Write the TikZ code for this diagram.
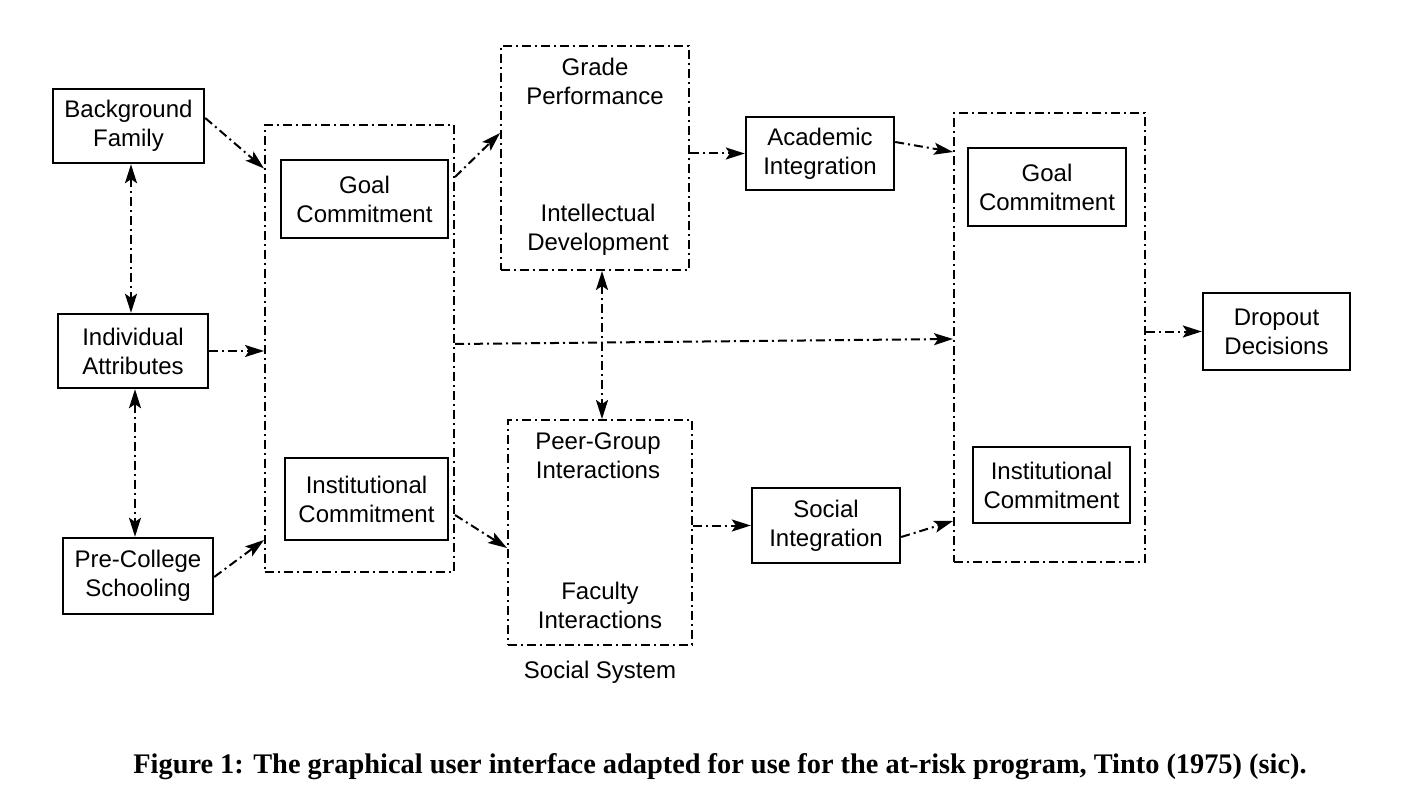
\documentclass[tikz,border=0pt]{standalone}
\usepackage{fontspec}
\setmainfont{Liberation Serif}
\setsansfont{Liberation Sans}
\usetikzlibrary{arrows.meta}
\tikzset{
  sbox/.style={draw, line width=2.4pt, inner sep=0pt, align=center, font=\sffamily\fontsize{24}{29}\selectfont},
  dbox/.style={draw, line width=2pt, inner sep=0pt, dash pattern=on 9pt off 4pt on 2pt off 4pt},
  lbl/.style={inner sep=0pt, align=center, font=\sffamily\fontsize{24}{29}\selectfont},
  tip/.tip={Stealth[length=19pt,width=12pt,inset=4pt]},
  conn/.style={line width=2pt, dash pattern=on 9pt off 4pt on 2pt off 4pt, -tip},
  dconn/.style={line width=2pt, dash pattern=on 9pt off 4pt on 2pt off 4pt, tip-tip}
}
\begin{document}
\begin{tikzpicture}[x=1pt,y=-1pt]
\useasboundingbox (0,0) rectangle (1424,789);
% dashed group boxes
\node[dbox, minimum width=189pt, minimum height=447pt] (leftbox) at (359.5,348.5) {};
\node[dbox, minimum width=188pt, minimum height=224pt] (gradebox) at (595,158) {};
\node[dbox, minimum width=184pt, minimum height=225pt] (peerbox) at (600,532.5) {};
\node[dbox, minimum width=191pt, minimum height=449pt] (rightbox) at (1049.5,337.5) {};
% solid boxes
\node[sbox, minimum width=151pt, minimum height=74pt] (bf) at (128.5,126) {Background\\Family};
\node[sbox, minimum width=150pt, minimum height=74pt] (ia) at (133,351) {Individual\\Attributes};
\node[sbox, minimum width=150pt, minimum height=76pt] (pcs) at (138,576) {Pre-College\\Schooling};
\node[sbox, minimum width=167pt, minimum height=78pt] (gc1) at (364.5,199) {Goal\\Commitment};
\node[sbox, minimum width=163pt, minimum height=82pt] (ic1) at (366.5,499) {Institutional\\Commitment};
\node[sbox, minimum width=148pt, minimum height=73pt] (ai) at (820,153.5) {Academic\\Integration};
\node[sbox, minimum width=148pt, minimum height=75pt] (si) at (826,525.5) {Social\\Integration};
\node[sbox, minimum width=158pt, minimum height=78pt] (gc2) at (1047,187) {Goal\\Commitment};
\node[sbox, minimum width=157pt, minimum height=76pt] (ic2) at (1051.5,485) {Institutional\\Commitment};
\node[sbox, minimum width=147pt, minimum height=77pt] (dd) at (1276.5,331.5) {Dropout\\Decisions};
% texts in dashed boxes
\node[lbl] (gp) at (595,81) {Grade\\Performance};
\node[lbl] (idv) at (598,230) {Intellectual\\Development};
\node[lbl] (pg) at (598,456) {Peer-Group\\Interactions};
\node[lbl] (fi) at (600,605) {Faculty\\Interactions};
\node[lbl] (ss) at (600,672) {Social System};
% connectors
\draw[conn] ([yshift=8pt]bf.east) -- ([yshift=180pt]leftbox.west);
\draw[conn] (ia.east) -- (ia.east -| leftbox.west);
\draw[conn] ([yshift=-1pt]pcs.east) -- ([yshift=-191.5pt]leftbox.west);
\draw[dconn] ([xshift=2.5pt]bf.south) -- ([xshift=-2pt]ia.north);
\draw[dconn] ([xshift=2pt]ia.south) -- ([xshift=-3pt]pcs.north);
\draw[conn] ([yshift=171.5pt]leftbox.east) -- ([yshift=25pt]gradebox.west);
\draw[conn] ([yshift=-166.5pt]leftbox.east) -- ([yshift=-15.5pt]peerbox.west);
\draw[conn] (gradebox.east |- ai.west) -- (ai.west);
\draw[conn] ([yshift=11.5pt]ai.east) -- ([yshift=185.5pt]rightbox.west);
\draw[conn] ([yshift=4.5pt]leftbox.east) -- ([yshift=-1.5pt]rightbox.west);
\draw[dconn] ([xshift=7pt]gradebox.south) -- ([xshift=2pt]peerbox.north);
\draw[conn] (peerbox.east |- si.west) -- (si.west);
\draw[conn] ([yshift=-11.5pt]si.east) -- ([yshift=-183.5pt]rightbox.west);
\draw[conn] (rightbox.east |- dd.west) -- (dd.west);
% caption
\node[inner sep=0pt] (cap) at (720,767) {\resizebox{1173pt}{!}{\bfseries Figure 1: The graphical user interface adapted for use for the at-risk program, Tinto (1975) (sic).}};
\end{tikzpicture}
\end{document}
